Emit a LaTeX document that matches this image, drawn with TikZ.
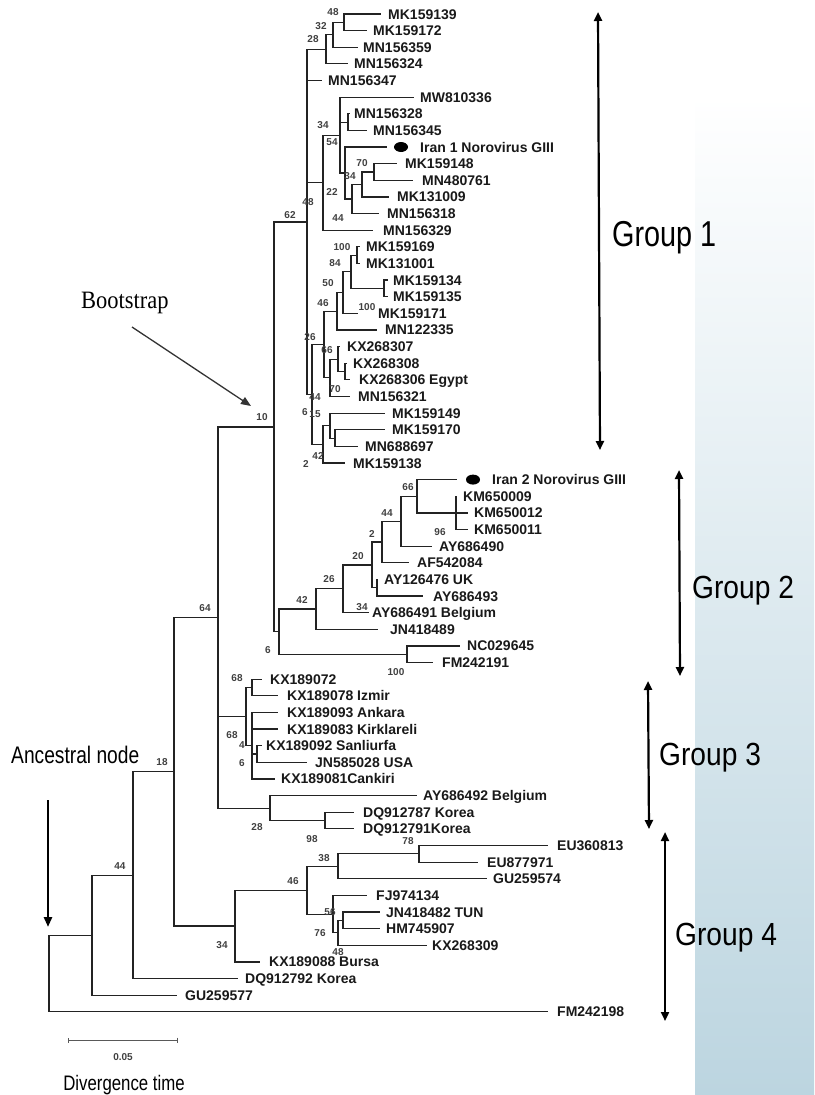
\documentclass[tikz,border=0pt]{standalone}
\usepackage{fontspec}
\setmainfont{Liberation Sans}
\newfontfamily\lblfont{Liberation Sans}
\newfontfamily\narrowfont{Liberation Sans}[FakeStretch=0.8]
\newfontfamily\grpfont{Liberation Sans}[FakeStretch=0.88]
\newfontfamily\bootfont{Liberation Serif}[FakeStretch=0.9]
\usetikzlibrary{arrows.meta,shapes.geometric}
\definecolor{panelblue}{RGB}{188,213,224}
\definecolor{treeline}{RGB}{35,35,35}
\begin{document}
\begin{tikzpicture}[x=1pt,y=-1pt,
  tree/.style={line width=1.2pt, draw=treeline},
  lbl/.style={anchor=base west, inner sep=0pt, text=black!90, font=\lblfont\bfseries\fontsize{14}{14}\selectfont},
  bs/.style={inner sep=0pt, text=black!75, font=\lblfont\bfseries\fontsize{10}{10}\selectfont},
  grp/.style={line width=2.2pt, draw=black, {Triangle[length=9pt,width=8pt]}-{Triangle[length=9pt,width=8pt]}},
  grplbl/.style={anchor=base west, inner sep=0pt, font=\grpfont\fontsize{32}{32}\selectfont},
  dot/.style={ellipse, fill=black, minimum width=14pt, minimum height=10pt, inner sep=0pt}]
\useasboundingbox (0,0) rectangle (814,1095);
% background panel
\shade[top color=white, bottom color=panelblue, draw=none] (695,95) rectangle (814,1095);

% leaves: index / branch end x / gap to label / label
\foreach \i/\x/\g/\t in {
 1/381/7/MK159139, 2/367/6/MK159172, 3/358/5/MN156359, 4/348/6/MN156324,
 5/322/6/MN156347, 6/414/6/MW810336, 7/350/4/MN156328, 8/367/6/MN156345,
 9/387/33/Iran 1 Norovirus GIII, 10/397/8/MK159148, 11/413/9/MN480761,
 12/389/8/MK131009, 13/379/8/MN156318, 14/373/10/MN156329, 15/360/6/MK159169,
 16/360/6/MK131001, 17/388/5/MK159134, 18/388/5/MK159135, 19/358/20/MK159171,
 20/377/8/MN122335, 21/340/7/KX268307, 22/347/6/KX268308, 23/350/9/KX268306 Egypt,
 24/350/8/MN156321, 25/385/7/MK159149, 26/385/7/MK159170, 27/358/7/MN688697,
 28/345/8/MK159138, 29/457/35/Iran 2 Norovirus GIII, 30/456/7/KM650009,
 31/468/6/KM650012, 32/468/6/KM650011, 33/432/7/AY686490, 34/409/8/AF542084,
 35/377/7/AY126476 UK, 36/423/10/AY686493, 37/369/3/AY686491 Belgium,
 38/378/12/JN418489, 39/460/7/NC029645, 40/433/9/FM242191, 41/262/8/KX189072,
 42/278/9/KX189078 Izmir, 43/278/9/KX189093 Ankara, 44/278/9/KX189083 Kirklareli,
 45/262/4/KX189092 Sanliurfa, 46/307/8/JN585028 USA, 47/275/6/KX189081Cankiri,
 48/417/6/AY686492 Belgium, 49/354/9/DQ912787 Korea, 50/354/9/DQ912791Korea,
 51/548/9/EU360813, 52/478/9/EU877971, 53/487/6/GU259574, 54/367/9/FJ974134,
 55/380/6/JN418482 TUN, 56/380/6/HM745907, 57/427/5/KX268309,
 58/260/9/KX189088 Bursa, 59/238/7/DQ912792 Korea, 60/177/8/GU259577,
 61/548/9/FM242198}
{
 \coordinate (l\i) at (\x,{14+(\i-1)*16.63});
 \node[lbl] (t\i) at ([xshift=\g, yshift=-5pt]l\i) {\t};
}

% internal nodes
\coordinate (N48a) at (344,22.3);
\coordinate (N32) at (333,34.8);
\coordinate (N28) at (326,49.4);
\coordinate (P348) at (348,122.1);
\coordinate (n70) at (374,172);
\coordinate (n62) at (362,184.5);
\coordinate (n44) at (352,199);
\coordinate (N54) at (345,173);
\coordinate (N34) at (340,135.1);
\coordinate (N22) at (323,182.7);
\coordinate (nA) at (357,255.2);
\coordinate (nB) at (384,288.4);
\coordinate (nC) at (351,271.8);
\coordinate (nD) at (343,292.6);
\coordinate (nE) at (337,311.3);
\coordinate (nF) at (345,371.6);
\coordinate (nG) at (338,359.1);
\coordinate (nH) at (330,377.8);
\coordinate (nI) at (324,344.6);
\coordinate (nM) at (335,438.1);
\coordinate (nL) at (330,425.6);
\coordinate (nK) at (323,444.3);
\coordinate (N11) at (312,394.5);
\coordinate (N48) at (307,222);
\coordinate (n96) at (456,512.9);
\coordinate (n66) at (417,496.3);
\coordinate (n44g) at (401,521.3);
\coordinate (n2) at (382,542);
\coordinate (nAY) at (377,587.7);
\coordinate (n20) at (372,564.9);
\coordinate (n26) at (343,588.8);
\coordinate (n42) at (316,609);
\coordinate (n100) at (407,654.3);
\coordinate (N6) at (279,631.7);
\coordinate (N10) at (274,426.9);
\coordinate (n68a) at (252,687.5);
\coordinate (n4) at (257,754);
\coordinate (n68b) at (252,745.7);
\coordinate (G3) at (246,716.6);
\coordinate (n98) at (325,820.6);
\coordinate (N28b) at (270,808.1);
\coordinate (N64) at (218,617.5);
\coordinate (n78) at (419,853.8);
\coordinate (n38) at (338,866.3);
\coordinate (n48) at (343,920.3);
\coordinate (n76) at (338,932.8);
\coordinate (n56) at (333,914.1);
\coordinate (n46) at (307,890.2);
\coordinate (N34g) at (235,926);
\coordinate (N18) at (174,771.8);
\coordinate (N44) at (133,875.2);
\coordinate (N92) at (92,935.2);
\coordinate (R) at (49,973.5);

% branches
\foreach \p/\c in {
 N48a/l1, N48a/l2, N32/N48a, N32/l3, N28/N32, N28/l4,
 P348/l7, P348/l8, n70/l10, n70/l11, n62/n70, n62/l12, n44/n62, n44/l13,
 N54/l9, N54/n44, N34/l6, N34/P348, N34/N54, N22/N34, N22/l14,
 nA/l15, nA/l16, nB/l17, nB/l18, nC/nA, nC/nB, nD/nC, nD/l19, nE/nD, nE/l20,
 nF/l22, nF/l23, nG/l21, nG/nF, nH/nG, nH/l24, nI/nE, nI/nH,
 nM/l26, nM/l27, nL/l25, nL/nM, nK/nL, nK/l28, N11/nI, N11/nK,
 N48/N28, N48/l5, N48/N22, N48/N11,
 n96/l30, n96/l31, n96/l32, n66/l29, n66/n96, n44g/n66, n44g/l33, n2/n44g, n2/l34,
 nAY/l35, nAY/l36, n20/n2, n20/nAY, n26/n20, n26/l37, n42/n26, n42/l38,
 n100/l39, n100/l40, N6/n42, N6/n100, N10/N48, N10/N6,
 n68a/l41, n68a/l42, n4/l45, n4/l46, n68b/l43, n68b/l44, n68b/n4, n68b/l47,
 G3/n68a, G3/n68b, n98/l49, n98/l50, N28b/l48, N28b/n98,
 N64/N10, N64/G3, N64/N28b,
 n78/l51, n78/l52, n38/n78, n38/l53, n48/l55, n48/l56, n76/n48, n76/l57,
 n56/l54, n56/n76, n46/n38, n46/n56, N34g/n46, N34g/l58,
 N18/N64, N18/N34g, N44/N18, N44/l59, N92/N44, N92/l60, R/N92, R/l61}
{ \draw[tree] (\p) |- (\c); }

% Iran dots
\node[dot] (dot1) at (401,147) {};
\node[dot] (dot2) at (473,479.6) {};

% bootstrap values
\foreach \x/\y/\t [count=\k] in {
 333/12/48, 321/26/32, 313/39/28, 323/125/34, 332/142/54, 362/163/70, 350/176/34,
 332/192/22, 308/202/48, 290/215/62, 338/218/44, 342/247/100, 335/263/84,
 328/283/50, 323/303/46, 367/307/100, 310/337/26, 327/350/66, 335/389/70,
 315/397/44, 305/412/6, 315/414/15, 318/456/42, 306/464/2, 262/417/10,
 408/487/66, 387/513/44, 440/532/96, 372/534/2, 358/556/20, 329/579/26,
 302/600/42, 362/607/34, 268/650/6, 396/672/100,
 237/678/68, 232/735/68, 242/745/4, 242/763/6, 257/827/28, 312/839/98,
 408/841/78, 324/858/38, 293/881/46, 330/912/56, 320/933/76, 338/952/48, 222/945/34,
 205/608/64, 162/762/18, 120/866/44}
{ \node[bs] (b\k) at (\x,\y) {\t}; }

% group arrows and labels
\coordinate (g1a) at (598,12);  \coordinate (g1b) at (600,450);
\coordinate (g2a) at (679,470); \coordinate (g2b) at (680,676);
\coordinate (g3a) at (648,681); \coordinate (g3b) at (649,829);
\coordinate (g4a) at (665,832); \coordinate (g4b) at (665,1021);
\draw[grp] (g1a) -- (g1b);
\draw[grp] (g2a) -- (g2b);
\draw[grp] (g3a) -- (g3b);
\draw[grp] (g4a) -- (g4b);
\node[anchor=base west, inner sep=0pt, font=\narrowfont\fontsize{36}{36}\selectfont] (grp1) at (612,246) {Group 1};
\node[grplbl] (grp2) at (692,598) {Group 2};
\node[grplbl] (grp3) at (659,765) {Group 3};
\node[grplbl] (grp4) at (675,945) {Group 4};

% Bootstrap annotation
\node[anchor=base west, inner sep=0pt, font=\bootfont\fontsize{25}{25}\selectfont] (boot) at (81,308) {Bootstrap};
\coordinate (ba) at (132,327); \coordinate (bb) at (251,406);
\draw[line width=1.3pt, draw=black!80, -{Triangle[length=10pt,width=8pt]}] (ba) -- (bb);

% Ancestral node annotation
\node[anchor=base west, inner sep=0pt, font=\narrowfont\fontsize{24}{24}\selectfont] (anc) at (11,763) {Ancestral node};
\coordinate (aa) at (48,800); \coordinate (ab) at (48,927);
\draw[line width=2.5pt, -{Triangle[length=10pt,width=8pt]}] (aa) -- (ab);

% scale bar
\coordinate (sb1) at (68,1040); \coordinate (sb2) at (178,1040);
\draw[line width=1pt, draw=black!65, {Bar[width=5pt]}-{Bar[width=5pt]}] (sb1) -- (sb2);
\node[bs] (sbl) at (123,1057) {0.05};
\node[anchor=base, inner sep=0pt, font=\narrowfont\fontsize{21}{21}\selectfont] (div) at (124,1090) {Divergence time};
\end{tikzpicture}
\end{document}
